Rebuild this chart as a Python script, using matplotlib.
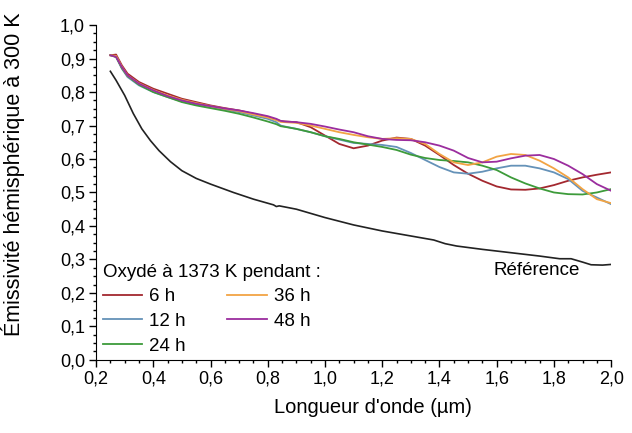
import matplotlib
matplotlib.use("Agg")
import matplotlib.pyplot as plt
from matplotlib.ticker import MultipleLocator, FuncFormatter

plt.rcParams['font.family'] = ['Liberation Sans', 'DejaVu Sans']

# wavelength grid (µm)
wl = [0.25, 0.27, 0.29, 0.31, 0.35, 0.40, 0.45, 0.50, 0.55, 0.60, 0.65, 0.70,
      0.75, 0.80, 0.83, 0.845, 0.86, 0.90, 0.95, 1.00, 1.05, 1.10, 1.15, 1.20,
      1.25, 1.30, 1.35, 1.40, 1.45, 1.50, 1.55, 1.60, 1.65, 1.70, 1.75, 1.80,
      1.85, 1.90, 1.95, 2.00]

em_6h = [0.910, 0.912, 0.880, 0.855, 0.830, 0.810, 0.795, 0.780, 0.770, 0.760,
         0.752, 0.745, 0.735, 0.725, 0.718, 0.713, 0.712, 0.710, 0.695, 0.670,
         0.645, 0.632, 0.640, 0.655, 0.664, 0.660, 0.640, 0.612, 0.582, 0.556,
         0.535, 0.518, 0.509, 0.508, 0.512, 0.522, 0.535, 0.545, 0.553, 0.560]
em_12h = [0.910, 0.905, 0.870, 0.845, 0.820, 0.800, 0.785, 0.772, 0.762, 0.755,
          0.748, 0.740, 0.730, 0.720, 0.710, 0.700, 0.697, 0.690, 0.680, 0.668,
          0.658, 0.648, 0.645, 0.642, 0.636, 0.618, 0.597, 0.576, 0.560, 0.556,
          0.562, 0.572, 0.580, 0.580, 0.572, 0.560, 0.540, 0.505, 0.485, 0.465]
em_24h = [0.910, 0.905, 0.872, 0.848, 0.822, 0.800, 0.785, 0.770, 0.760, 0.752,
          0.744, 0.735, 0.724, 0.712, 0.704, 0.698, 0.696, 0.690, 0.680, 0.668,
          0.660, 0.650, 0.643, 0.636, 0.627, 0.613, 0.603, 0.597, 0.594, 0.590,
          0.580, 0.567, 0.545, 0.527, 0.512, 0.500, 0.495, 0.494, 0.500, 0.510]
em_36h = [0.910, 0.908, 0.876, 0.850, 0.826, 0.806, 0.790, 0.777, 0.767, 0.758,
          0.750, 0.743, 0.733, 0.724, 0.716, 0.711, 0.710, 0.708, 0.700, 0.690,
          0.680, 0.672, 0.665, 0.660, 0.662, 0.660, 0.645, 0.615, 0.590, 0.582,
          0.590, 0.607, 0.615, 0.612, 0.595, 0.572, 0.545, 0.510, 0.480, 0.468]
em_48h = [0.910, 0.905, 0.875, 0.850, 0.825, 0.805, 0.788, 0.775, 0.765, 0.758,
          0.751, 0.745, 0.737, 0.728, 0.720, 0.714, 0.712, 0.710, 0.705, 0.697,
          0.688, 0.680, 0.668, 0.660, 0.657, 0.656, 0.650, 0.640, 0.625, 0.603,
          0.590, 0.592, 0.602, 0.610, 0.612, 0.600, 0.580, 0.555, 0.525, 0.505]

wl_ref = [0.25, 0.27, 0.30, 0.33, 0.36, 0.39, 0.42, 0.46, 0.50, 0.55, 0.60,
          0.68, 0.75, 0.82, 0.83, 0.84, 0.90, 1.00, 1.10, 1.20, 1.30, 1.38,
          1.42, 1.46, 1.55, 1.65, 1.75, 1.82, 1.86, 1.90, 1.93, 1.97, 2.00]
em_ref = [0.862, 0.835, 0.790, 0.736, 0.690, 0.655, 0.625, 0.592, 0.565, 0.542,
          0.525, 0.500, 0.480, 0.463, 0.458, 0.460, 0.450, 0.425, 0.403, 0.385,
          0.370, 0.358, 0.347, 0.340, 0.330, 0.320, 0.310, 0.302, 0.302, 0.292,
          0.284, 0.283, 0.285]

labels = ['6 h', '12 h', '24 h', '36 h', '48 h']
colors = ['#a3282f', '#6592b8', '#3d9b3a', '#f2a444', '#9b2d9e']
series = [em_6h, em_12h, em_24h, em_36h, em_48h]

fig = plt.figure(figsize=(6.32, 4.33), dpi=100)
ax = fig.add_axes([0.152, 0.169, 0.815, 0.773])

ax.plot(wl_ref, em_ref, color='#222222', lw=1.2)
for y, c, lab in zip(series, colors, labels):
    ax.plot(wl, y, color=c, lw=1.3, label=lab)

ax.text(1.892, 0.267, 'Référence', ha='right', va='center', fontsize=13.5)

ax.set_xlim(0.2, 2.0)
ax.set_ylim(0.0, 1.0)
ax.xaxis.set_major_locator(MultipleLocator(0.2))
ax.xaxis.set_minor_locator(MultipleLocator(0.05))
ax.yaxis.set_major_locator(MultipleLocator(0.1))
ax.yaxis.set_minor_locator(MultipleLocator(0.025))
comma = FuncFormatter(lambda v, p: f'{v:.1f}'.replace('.', ','))
ax.xaxis.set_major_formatter(comma)
ax.yaxis.set_major_formatter(comma)
ax.tick_params(which='major', direction='out', length=5, width=1,
               labelsize=13, pad=3)
ax.tick_params(which='minor', direction='out', length=2.5, width=1)
for s in ['top', 'right']:
    ax.spines[s].set_visible(False)

ax.set_xlabel("Longueur d'onde (µm)", fontsize=14.5)
ax.set_ylabel('Émissivité hémisphérique à 300 K', fontsize=15.5)
ax.xaxis.set_label_coords(0.538, -0.113)
ax.yaxis.set_label_coords(-0.138, 0.555)

leg = ax.legend(loc='upper left', bbox_to_anchor=(0.0136, 0.287), ncol=2,
                frameon=False, fontsize=13.5, title='Oxydé à 1373 K pendant :',
                title_fontsize=13.5, alignment='left', handlelength=2.1,
                handletextpad=0.37, columnspacing=2.2, labelspacing=0.4,
                borderpad=0, borderaxespad=0)

fig.savefig('out.png', dpi=100)
